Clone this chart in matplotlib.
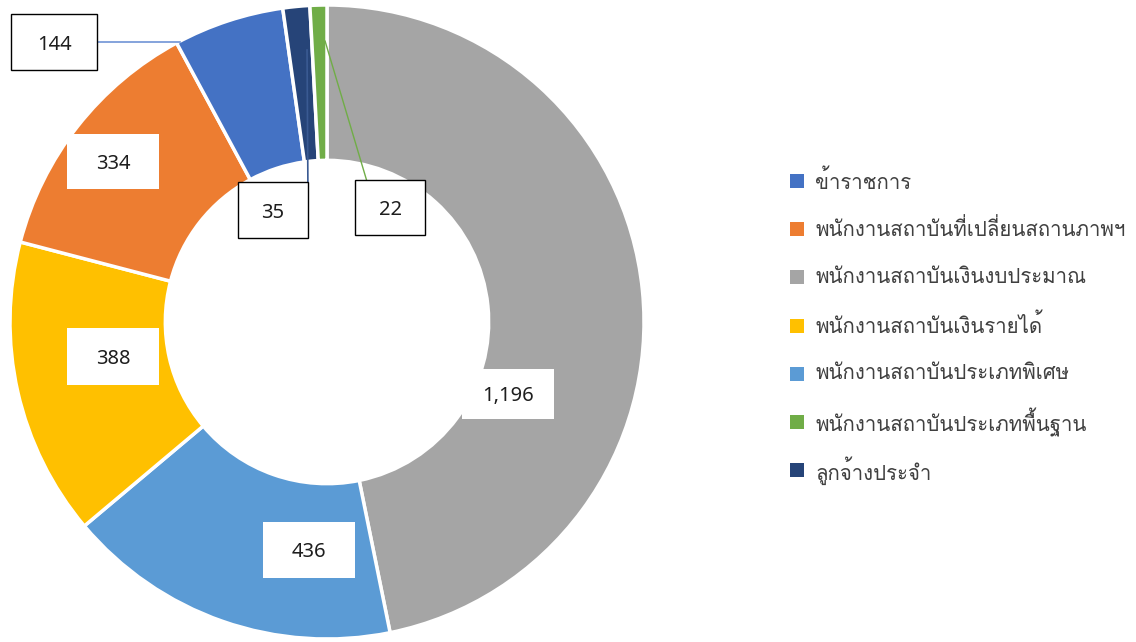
import matplotlib
matplotlib.use("Agg")
import matplotlib.pyplot as plt
from matplotlib.patches import Rectangle

plt.rcParams['font.family'] = ['Loma', 'Noto Sans Thai', 'DejaVu Sans']

# ---- data (legend order) ----
categories = ["ข้าราชการ",
              "พนักงานสถาบันที่เปลี่ยนสถานภาพฯ",
              "พนักงานสถาบันเงินงบประมาณ",
              "พนักงานสถาบันเงินรายได้",
              "พนักงานสถาบันประเภทพิเศษ",
              "พนักงานสถาบันประเภทพื้นฐาน",
              "ลูกจ้างประจำ"]
values = [144, 334, 1196, 388, 436, 22, 35]
colors = ["#4472C4", "#ED7D31", "#A5A5A5", "#FFC000", "#5B9BD5", "#70AD47", "#264478"]

# order in which slices are drawn clockwise from the top
draw_order = [2, 4, 3, 1, 0, 6, 5]

# ---- label layout (in units of outer radius, relative to centre) ----
label_pos = {0: (-0.861, 0.883), 1: (-0.675, 0.505), 2: (0.571, -0.227),
             3: (-0.675, -0.110), 4: (-0.057, -0.719), 5: (0.199, 0.360),
             6: (-0.170, 0.353)}
label_box = {0: (0.274, 0.177), 1: (0.293, 0.174), 2: (0.293, 0.155),
             3: (0.293, 0.180), 4: (0.290, 0.177), 5: (0.221, 0.174),
             6: (0.221, 0.177)}
bordered = {0, 5, 6}

W, H = 1136, 642
fig = plt.figure(figsize=(W / 100, H / 100), dpi=100)
cx, cy, R = 327, 322, 317
ax = fig.add_axes([(cx - R) / W, (H - cy - R) / H, 2 * R / W, 2 * R / H])

vals = [values[i] for i in draw_order]
cols = [colors[i] for i in draw_order]
wedges, _ = ax.pie(vals, colors=cols, startangle=90, counterclock=False, radius=1.0,
                   wedgeprops=dict(width=0.49, edgecolor='white', linewidth=2.5))
ax.set_xlim(-1, 1)
ax.set_ylim(-1, 1)
ax.set_aspect('equal')
ax.axis('off')

# leader lines
ax.plot([-0.861 + 0.137, -0.464], [0.883, 0.883], color="#6F94D6", lw=1.2, zorder=3)
ax.plot([-0.060, -0.063], [0.398, 0.858], color="#3A5A92", lw=1.2, zorder=3)
ax.plot([0.142, -0.006], [0.390, 0.886], color="#70AD47", lw=1.0, zorder=3)

for i in range(len(values)):
    x, y = label_pos[i]
    bw, bh = label_box[i]
    ax.add_patch(Rectangle((x - bw / 2, y - bh / 2), bw, bh, facecolor='white',
                           edgecolor='black' if i in bordered else 'none',
                           linewidth=1.0, zorder=4))
    ax.text(x, y - 0.008, f"{values[i]:,}", ha='center', va='center', fontsize=14.5,
            family=['Noto Sans', 'DejaVu Sans'], color='#1e1e1e', zorder=5)

# legend (manual layout, pixel based)
lx_sq, lx_txt, ly0, ldy, sq = 790, 815, 181, 48.2, 14
for k, (name, c) in enumerate(zip(categories, colors)):
    yc = ly0 + k * ldy
    fig.patches.append(Rectangle((lx_sq / W, (H - yc - sq / 2) / H), sq / W, sq / H,
                                 facecolor=c, edgecolor='none', transform=fig.transFigure,
                                 figure=fig))
    fig.text(lx_txt / W, (H - yc) / H, name, ha='left', va='center', fontsize=14.7,
             color='#404040')

fig.savefig("out.png", dpi=100)
